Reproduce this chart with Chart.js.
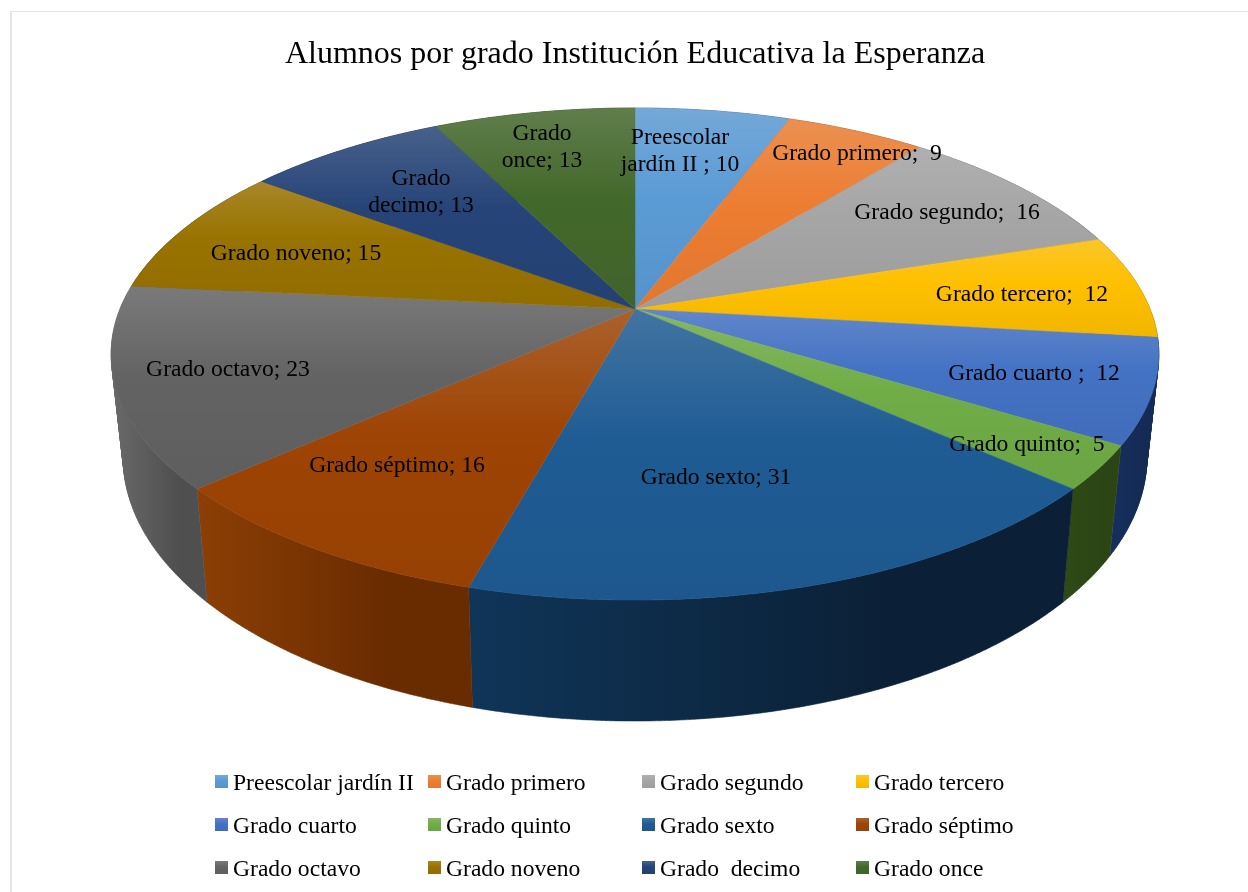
<!DOCTYPE html>
<html>
<head>
<meta charset="utf-8">
<title>Alumnos por grado</title>
<script src="https://cdn.jsdelivr.net/npm/chart.js@4/dist/chart.umd.min.js"></script>
<style>
  html, body { margin: 0; padding: 0; background: #ffffff; overflow: hidden; }
  canvas { display: block; }
</style>
</head>
<body>
<canvas id="myChart" width="1248" height="892"></canvas>
<script>
// data
categories = [
  "Preescolar jardín II", "Grado primero", "Grado segundo", "Grado tercero",
  "Grado cuarto", "Grado quinto", "Grado sexto", "Grado séptimo",
  "Grado octavo", "Grado noveno", "Grado  decimo", "Grado once",
];
alumnos = [10, 9, 16, 12, 12, 5, 31, 16, 23, 15, 13, 13];
// text in front of the value on each slice, \n breaks the line
labelPrefix = [
  "Preescolar\njardín II ; ", "Grado primero;  ", "Grado segundo;  ", "Grado tercero;  ",
  "Grado cuarto ;  ", "Grado quinto;  ", "Grado sexto; ", "Grado séptimo; ",
  "Grado octavo; ", "Grado noveno; ", "Grado\ndecimo; ", "Grado\nonce; ",
];
titleText = "Alumnos por grado Institución Educativa la Esperanza";

// styles
sliceColors = ["#5b9bd5", "#ed7d31", "#a5a5a5", "#ffc000", "#4472c4", "#70ad47",
  "#1f5c94", "#9e4404", "#636363", "#997300", "#264478", "#43682b"];
wallColors = [
  ["#2f5475", "#2f5475"], ["#773f18", "#773f18"], ["#555555", "#555555"], ["#806000", "#806000"],
  ["#162f5e", "#152b55"], ["#2f4a16", "#2b4514"], ["#0f3558", "#0b2036"], ["#8c3f05", "#692b00"],
  ["#6a6a6a", "#4f4f4f"], ["#4d3a00", "#4d3a00"], ["#13223c", "#13223c"], ["#223416", "#223416"],
];
// label centres, x and y of the first line
labelPos = [[680, 138], [857, 154], [947, 213], [1022, 295], [1034, 374], [1027, 445],
  [716, 478], [397, 466], [228, 370], [296, 254], [421, 179], [542, 134]];
legendCols = [215, 428, 642, 856];
legendRows = [782, 825, 868];

// perspective of the disc: apex at (cx, y0), front edge y=600, back edge y=108
cx = 635;
y0 = 309;
persp = -0.183;
radX = 515;
radY = 237.8;
// lower rim: a bit narrower, and the wall gets shorter further back
rimScale = 0.977;
frontDepth = 121;
depthFalloff = 0.07;

function project(angle, lower) {
  let u = Math.cos(angle);
  let v = Math.sin(angle);
  let d = 1 + persp * v;
  let x = cx + (radX * u) / d;
  let y = y0 + (radY * v) / d;
  if (lower) {
    x = cx + (x - cx) * rimScale;
    y = y + frontDepth - (600 - y) * depthFalloff;
  }
  return [x, y];
}

function rimPoints(start, end, lower) {
  let pts = [];
  let steps = Math.max(2, Math.ceil((end - start) / 0.008));
  for (let i = 0; i <= steps; i++) {
    pts.push(project(start + ((end - start) * i) / steps, lower));
  }
  return pts;
}

function mix(hex, other, t) {
  let a = parseInt(hex.slice(1), 16);
  let b = parseInt(other.slice(1), 16);
  let out = [16, 8, 0].map(function (s) {
    let ca = (a >> s) & 255;
    let cb = (b >> s) & 255;
    return Math.round(ca + (cb - ca) * t);
  });
  return "rgb(" + out.join(",") + ")";
}

function topGradient(ctx, color, y1, y2) {
  let g = ctx.createLinearGradient(0, y1, 0, y2);
  g.addColorStop(0, mix(color, "#e4e4e4", 0.18));
  g.addColorStop(0.45, color);
  g.addColorStop(1, mix(color, "#000000", 0.05));
  return g;
}

function signedArea(q) {
  let sum = 0;
  for (let i = 0; i < q.length; i++) {
    let n = q[(i + 1) % q.length];
    sum += q[i][0] * n[1] - n[0] * q[i][1];
  }
  return sum;
}

solidPie = {
  id: "solidPie",
  beforeDatasetsDraw: function (chart) {
    let ctx = chart.ctx;
    let arcs = chart.getDatasetMeta(0).data;
    ctx.save();
    // side walls first, the top covers whatever sits at the back
    arcs.forEach(function (arc, i) {
      let upper = rimPoints(arc.startAngle, arc.endAngle, false);
      let lower = rimPoints(arc.startAngle, arc.endAngle, true);
      let xs = upper.concat(lower).map(function (p) { return p[0]; });
      let g = ctx.createLinearGradient(Math.min.apply(null, xs), 0, Math.max.apply(null, xs), 0);
      g.addColorStop(0, wallColors[i][0]);
      g.addColorStop(0.7, wallColors[i][1]);
      g.addColorStop(1, wallColors[i][1]);
      ctx.fillStyle = g;
      ctx.strokeStyle = g;
      ctx.lineWidth = 0.5;
      // small quads in one path, all wound the same way so the fold at the
      // widest point does not cancel out
      ctx.beginPath();
      for (let k = 0; k < upper.length - 1; k++) {
        let q = [upper[k], upper[k + 1], lower[k + 1], lower[k]];
        if (signedArea(q) < 0) q.reverse();
        ctx.moveTo(q[0][0], q[0][1]);
        ctx.lineTo(q[1][0], q[1][1]);
        ctx.lineTo(q[2][0], q[2][1]);
        ctx.lineTo(q[3][0], q[3][1]);
        ctx.closePath();
      }
      ctx.fill();
      ctx.stroke();
    });
    arcs.forEach(function (arc, i) {
      let pts = rimPoints(arc.startAngle, arc.endAngle, false);
      let ys = pts.map(function (p) { return p[1]; }).concat([y0]);
      let g = topGradient(ctx, sliceColors[i], Math.min.apply(null, ys), Math.max.apply(null, ys));
      ctx.beginPath();
      ctx.moveTo(cx, y0);
      pts.forEach(function (p) { ctx.lineTo(p[0], p[1]); });
      ctx.closePath();
      ctx.fillStyle = g;
      ctx.strokeStyle = g;
      ctx.lineWidth = 0.5;
      ctx.fill();
      ctx.stroke();
    });
    ctx.restore();
    return false;
  },
  afterDraw: function (chart) {
    let ctx = chart.ctx;
    ctx.save();
    // frame, only top and left show
    ctx.fillStyle = "#e2e5ee";
    ctx.fillRect(10, 11, 2, 881);
    ctx.fillStyle = "#e4e4e9";
    ctx.fillRect(10, 11, 1238, 1);

    ctx.font = labelFont;
    ctx.fillStyle = "#000000";
    ctx.textBaseline = "middle";
    ctx.textAlign = "center";
    chart.data.datasets[0].data.forEach(function (val, i) {
      let lines = (labelPrefix[i] + val).split("\n");
      lines.forEach(function (line, k) {
        ctx.fillText(line, labelPos[i][0], labelPos[i][1] + k * 26.5);
      });
    });

    ctx.textAlign = "left";
    categories.forEach(function (name, i) {
      let x = legendCols[i % 4];
      let y = legendRows[Math.floor(i / 4)];
      ctx.fillStyle = topGradient(ctx, sliceColors[i], y - 7, y + 6);
      ctx.fillRect(x, y - 7, 13, 13);
      ctx.fillStyle = "#000000";
      ctx.fillText(name, x + 18, y + 2);
    });
    ctx.restore();
  },
};

labelFont = "23.6px 'Liberation Serif'";

myChart = new Chart(document.getElementById("myChart"), {
  type: "pie",
  data: {
    labels: categories,
    datasets: [{ data: alumnos, backgroundColor: sliceColors }],
  },
  options: {
    responsive: false,
    animation: false,
    layout: { padding: { left: 22 } },
    plugins: {
      legend: { display: false },
      tooltip: { enabled: false },
      title: {
        display: true,
        text: titleText,
        color: "#000000",
        font: { family: "'Liberation Serif'", size: 32, weight: "normal" },
        padding: { top: 35, bottom: 0 },
      },
    },
  },
  plugins: [solidPie],
});
</script>
</body>
</html>
